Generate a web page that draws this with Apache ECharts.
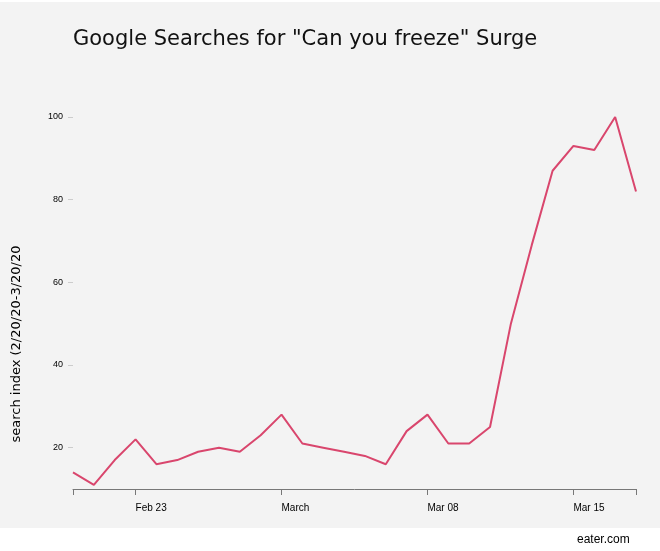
<!DOCTYPE html>
<html>
<head>
<meta charset="utf-8">
<script src="https://cdn.jsdelivr.net/npm/echarts@6/dist/echarts.min.js"></script>
<style>
  html, body { margin: 0; padding: 0; background: #fff; }
  #bg { position: absolute; left: 0; top: 2px; width: 660px; height: 526px; background: #f3f3f3; }
  #chart { position: absolute; left: 0; top: 0; width: 660px; height: 551px; }
</style>
</head>
<body>
<div id="bg"></div>
<div id="chart"></div>
<script>
// 날짜 (2/20 ~ 3/18, 일 단위)
var days = [
  'Feb 20', 'Feb 21', 'Feb 22', 'Feb 23', 'Feb 24', 'Feb 25', 'Feb 26', 'Feb 27', 'Feb 28', 'Feb 29',
  'Mar 01', 'Mar 02', 'Mar 03', 'Mar 04', 'Mar 05', 'Mar 06', 'Mar 07', 'Mar 08', 'Mar 09', 'Mar 10',
  'Mar 11', 'Mar 12', 'Mar 13', 'Mar 14', 'Mar 15', 'Mar 16', 'Mar 17', 'Mar 18'
];

// 검색 지수
var searchIndex = [
  14, 11, 17, 22, 16, 17, 19, 20, 19, 23,
  28, 21, 20, 19, 18, 16, 24, 28, 21, 21,
  25, 50, 69, 87, 93, 92, 100, 82
];

// x축 라벨 (날짜 -> 표시 텍스트)
var xLabelDays = ['Feb 23', 'Mar 01', 'Mar 08', 'Mar 15'];
var xLabelText = ['Feb 23', 'March', 'Mar 08', 'Mar 15'];
// x축 눈금 (양 끝 포함)
var xTickDays = ['Feb 20', 'Feb 23', 'Mar 01', 'Mar 08', 'Mar 15', 'Mar 18'];

// y축 눈금
var yTicks = [20, 40, 60, 80, 100];

var myChart = echarts.init(document.getElementById('chart'));

var option = {
  backgroundColor: 'transparent',
  animation: false,
  title: [
    {
      text: 'Google Searches for "Can you freeze" Surge',
      left: 73,
      top: 29,
      padding: 0,
      textStyle: {
        fontFamily: 'DejaVu Sans',
        fontWeight: 'normal',
        fontSize: 21,
        color: '#111'
      }
    },
    {
      text: 'eater.com',
      left: 577,
      top: 534,
      padding: 0,
      textStyle: {
        fontFamily: 'Liberation Sans',
        fontWeight: 'normal',
        fontSize: 12,
        color: '#000'
      }
    }
  ],
  // y축 제목 (축 중앙보다 아래쪽에 위치)
  graphic: [
    {
      type: 'text',
      x: 17,
      y: 344,
      rotation: Math.PI / 2,
      style: {
        text: 'search index (2/20/20-3/20/20',
        fontFamily: 'DejaVu Sans',
        fontSize: 13,
        fill: '#000',
        align: 'center',
        verticalAlign: 'middle'
      }
    }
  ],
  grid: {
    left: 73,
    right: 24,
    top: 117,
    bottom: 62,
    containLabel: false
  },
  xAxis: {
    type: 'category',
    data: days,
    boundaryGap: false,
    axisLine: {
      show: true,
      lineStyle: { color: '#777', width: 1 }
    },
    axisTick: {
      show: true,
      length: 6,
      lineStyle: { color: '#777' },
      interval: function (idx, val) {
        return xTickDays.indexOf(val) >= 0;
      }
    },
    axisLabel: {
      interval: function (idx, val) {
        return xLabelDays.indexOf(val) >= 0;
      },
      formatter: function (val) {
        var i = xLabelDays.indexOf(val);
        return i >= 0 ? xLabelText[i] : '';
      },
      align: 'left',
      margin: 14,
      fontFamily: 'Liberation Sans',
      fontSize: 10,
      color: '#000'
    },
    splitLine: { show: false }
  },
  yAxis: {
    type: 'value',
    min: 10,
    max: 100,
    axisLine: { show: false },
    axisTick: {
      show: true,
      length: 5,
      lineStyle: { color: '#ccc' },
      customValues: yTicks
    },
    axisLabel: {
      customValues: yTicks,
      margin: 10,
      fontFamily: 'Liberation Sans',
      fontSize: 9,
      color: '#000'
    },
    splitLine: { show: false }
  },
  series: [
    {
      name: 'search index',
      type: 'line',
      data: searchIndex,
      showSymbol: false,
      smooth: false,
      lineStyle: { color: '#d9466d', width: 2 }
    }
  ]
};

myChart.setOption(option);
</script>
</body>
</html>
